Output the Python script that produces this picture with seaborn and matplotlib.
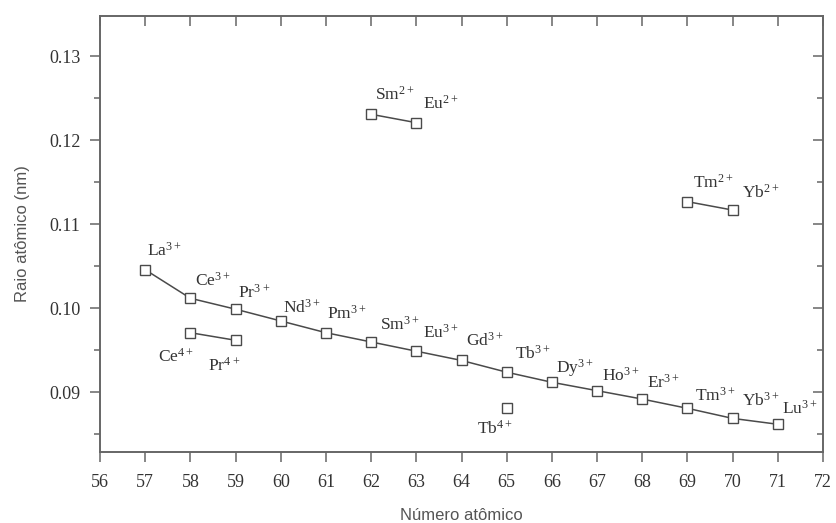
import matplotlib
matplotlib.use("Agg")
import matplotlib.pyplot as plt
from matplotlib.ticker import MultipleLocator
import seaborn as sns
import pandas as pd

# ---- data ----
z3 = [57, 58, 59, 60, 61, 62, 63, 64, 65, 66, 67, 68, 69, 70, 71]
r3 = [0.1046, 0.1012, 0.0999, 0.0985, 0.0971, 0.0960, 0.0949, 0.0938,
      0.0924, 0.0912, 0.0902, 0.0892, 0.0881, 0.0869, 0.0862]
lab3 = ["La", "Ce", "Pr", "Nd", "Pm", "Sm", "Eu", "Gd", "Tb", "Dy", "Ho",
        "Er", "Tm", "Yb", "Lu"]

z4a = [58, 59]
r4a = [0.0971, 0.0962]
lab4a = ["Ce", "Pr"]

z4b = [65]
r4b = [0.0881]
lab4b = ["Tb"]

z2a = [62, 63]
r2a = [0.1231, 0.1221]
lab2a = ["Sm", "Eu"]

z2b = [69, 70]
r2b = [0.1127, 0.1117]
lab2b = ["Tm", "Yb"]

xticks = list(range(56, 73))
yticks = [0.09, 0.10, 0.11, 0.12, 0.13]
ytick_labels = ["0.09", "0.10", "0.11", "0.12", "0.13"]

# label anchor points (left edge, vertical centre) in data coords
pos3 = [(57.04, 0.1069), (58.1, 0.1033), (59.05, 0.1019), (60.05, 0.1001),
        (61.02, 0.0994), (62.2, 0.0980), (63.15, 0.0971), (64.1, 0.0961),
        (65.18, 0.0946), (66.1, 0.0929), (67.1, 0.0920), (68.1, 0.0911),
        (69.16, 0.0896), (70.2, 0.0890), (71.1, 0.0881)]
pos4a = [(57.28, 0.0942), (58.39, 0.0932)]
pos4b = [(64.34, 0.0857)]
pos2a = [(62.08, 0.1254), (63.15, 0.1244)]
pos2b = [(69.12, 0.1150), (70.2, 0.1138)]

sns.set_theme(style="white")
plt.rcParams["font.family"] = ["Liberation Serif", "DejaVu Serif"]
plt.rcParams["mathtext.default"] = "regular"

fig = plt.figure(figsize=(8.37, 5.23), dpi=100)
ax = fig.add_axes([100 / 837, 71 / 523, 723 / 837, 436 / 523])

dark = "#4a4a4a"
series = [
    (z3, r3, 7.8),
    (z4a, r4a, 7.5),
    (z4b, r4b, 7),
    (z2a, r2a, 6.5),
    (z2b, r2b, 6.5),
]
for zz, rr, ms in series:
    df = pd.DataFrame({"Z": zz, "r": rr})
    sns.lineplot(data=df, x="Z", y="r", ax=ax, color=dark, lw=1.1,
                 marker="s", markersize=ms, markerfacecolor="white",
                 markeredgecolor=dark, markeredgewidth=1.0, sort=False)

def put(labels, positions, charge):
    for lb, (px, py) in zip(labels, positions):
        ax.text(px, py, lb + "$^{" + charge + "}$", ha="left", va="center",
                fontsize=12.5, color="#333333")

put(lab3, pos3, "3+")
put(lab4a, pos4a, "4+")
put(lab4b, pos4b, "4+")
put(lab2a, pos2a, "2+")
put(lab2b, pos2b, "2+")

ax.set_xlim(56, 72)
ax.set_ylim(0.0829, 0.1348)
ax.set_xticks(xticks)
ax.set_xticklabels([str(v) for v in xticks])
ax.set_yticks(yticks)
ax.set_yticklabels(ytick_labels)
ax.yaxis.set_minor_locator(MultipleLocator(0.005))

for sp in ax.spines.values():
    sp.set_visible(True)
    sp.set_color("#666666")
    sp.set_linewidth(1.4)

ax.tick_params(axis="x", which="major", direction="out", length=7, width=1.1,
               color="#666666", labelsize=13, labelcolor="#333333",
               top=True, bottom=True, pad=9)
ax.tick_params(axis="y", which="both", direction="out", length=7, width=1.1,
               color="#666666", labelsize=13, labelcolor="#333333",
               left=True, right=True, pad=7)
ax.tick_params(axis="y", which="minor", length=4)
for t in ax.xaxis.get_major_ticks():
    t.tick2line.set_marker(3)  # inward from top
for t in ax.yaxis.get_major_ticks() + ax.yaxis.get_minor_ticks():
    t.tick2line.set_marker(0)  # inward from right

ax.set_xlabel("Número atômico", family=["Liberation Sans", "DejaVu Sans"],
              fontsize=12, color="#555555", labelpad=12)
ax.set_ylabel("Raio atômico (nm)", family=["Liberation Sans", "DejaVu Sans"],
              fontsize=12, color="#555555", labelpad=14)

fig.savefig("out.png", dpi=100)
